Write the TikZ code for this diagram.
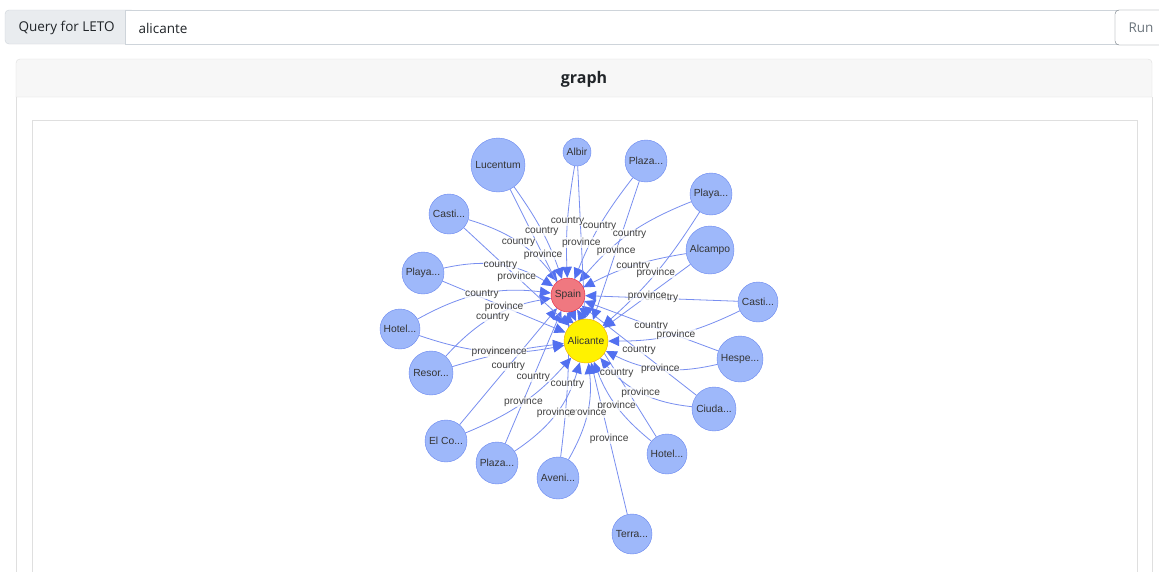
\documentclass[tikz,border=0pt]{standalone}
\usepackage{fontspec}
\setmainfont{Liberation Sans}
\newfontfamily\uifont{Open Sans}
\usetikzlibrary{arrows.meta,backgrounds}

\definecolor{placefill}{RGB}{158,184,250}
\definecolor{placeborder}{RGB}{105,135,240}
\definecolor{relcolor}{RGB}{120,142,240}
\definecolor{tipcolor}{RGB}{82,112,240}
\definecolor{spainfill}{RGB}{240,120,128}
\definecolor{spainborder}{RGB}{232,30,60}
\definecolor{alicanteborder}{RGB}{240,170,0}
\definecolor{nodetext}{RGB}{52,52,52}
\definecolor{lbltext}{RGB}{64,64,64}
\definecolor{addonfill}{RGB}{233,236,239}
\definecolor{inputborder}{RGB}{206,212,218}
\definecolor{btnborder}{RGB}{108,117,125}
\definecolor{cardborder}{RGB}{223,223,223}
\definecolor{headerfill}{RGB}{247,247,247}
\definecolor{titletext}{RGB}{33,37,41}

\pgfdeclarelayer{edgelayer}
\pgfsetlayers{background,edgelayer,main}

\tikzset{
  place/.style={circle,draw=placeborder,fill=placefill,inner sep=0pt,
    font=\fontsize{10.3}{12}\selectfont,text=nodetext},
  rel/.style={draw=relcolor,line width=0.8pt,
    -{Triangle[length=11pt,width=10pt,fill=tipcolor,color=tipcolor]}},
  lbl/.style={font=\fontsize{10.2}{12}\selectfont,text=lbltext,inner sep=0.4pt,
    fill=white,fill opacity=0.75,text opacity=1},
  uitext/.style={font=\uifont\fontsize{13.5}{16}\selectfont,text=titletext}
}

\begin{document}
\begin{tikzpicture}[x=1pt,y=1pt]
\useasboundingbox (0,-571) rectangle (1159,0);

% page chrome
\begin{pgfonlayer}{background}
\fill[white] (0,-571) rectangle (1159,0);
\draw[inputborder,fill=addonfill,rounded corners=4pt] (5,-10) rectangle (135,-44);
\draw[inputborder,fill=white] (125,-10) rectangle (1120,-44);
\draw[btnborder,fill=white,rounded corners=4pt] (1115,-10) rectangle (1175,-45);
\filldraw[fill=headerfill,draw=cardborder] (16,-97) [rounded corners=4pt] -- (16,-59) -- (1152,-59) [sharp corners] -- (1152,-97) -- cycle;
\draw[cardborder] (16,-97) -- (16,-580) (1152,-97) -- (1152,-580);
\draw[cardborder] (32,-120) rectangle (1137,-580);
\end{pgfonlayer}
\node[uitext,anchor=west] (querylabel) at (15,-28) {Query for LETO};
\node[uitext,anchor=west] (querytext) at (135,-28) {alicante};
\node[uitext,anchor=west,text=btnborder] (runbtn) at (1125,-28) {Run};
\node[font=\uifont\bfseries\fontsize{16}{19}\selectfont,text=titletext] (title) at (584,-79) {graph};

% graph nodes
\node[circle,draw=spainborder,fill=spainfill,inner sep=0pt,minimum size=34pt,
  font=\fontsize{10.3}{12}\selectfont,text=nodetext] (spain) at (568,-295) {Spain};
\node[circle,draw=alicanteborder,fill=yellow,inner sep=0pt,minimum size=44pt,
  font=\fontsize{10.3}{12}\selectfont,text=nodetext] (alicante) at (586,-341) {Alicante};

\node[place,minimum size=54pt] (lucentum) at (498,-165) {Lucentum};
\node[place,minimum size=28pt] (albir) at (577,-152) {Albir};
\node[place,minimum size=42pt] (plazaN) at (646,-161) {Plaza...};
\node[place,minimum size=42pt] (playaE) at (711,-194) {Playa...};
\node[place,minimum size=48pt] (alcampo) at (710,-250) {Alcampo};
\node[place,minimum size=40pt] (castiE) at (758,-302) {Casti...};
\node[place,minimum size=46pt] (hespe) at (740,-359) {Hespe...};
\node[place,minimum size=44pt] (ciuda) at (714,-409) {Ciuda...};
\node[place,minimum size=40pt] (hotelE) at (667,-454) {Hotel...};
\node[place,minimum size=40pt] (terra) at (632,-534) {Terra...};
\node[place,minimum size=42pt] (aveni) at (558,-478) {Aveni...};
\node[place,minimum size=42pt] (plazaS) at (497,-463) {Plaza...};
\node[place,minimum size=42pt] (elco) at (446,-441) {El Co...};
\node[place,minimum size=44pt] (resor) at (431,-373) {Resor...};
\node[place,minimum size=40pt] (hotelW) at (400,-329) {Hotel...};
\node[place,minimum size=42pt] (playaW) at (423,-273) {Playa...};
\node[place,minimum size=40pt] (castiW) at (449,-214) {Casti...};

% relations: source/bend
\def\countrylist{lucentum/8,albir/-6,plazaN/-8,playaE/-14,alcampo/-9,castiE/0,
  hespe/0,ciuda/0,hotelE/0,aveni/-4,plazaS/0,elco/0,resor/19,hotelW/18,
  playaW/22,castiW/18}
\def\provincelist{lucentum/0,albir/0,plazaN/0,playaE/8,alcampo/0,castiE/13,
  hespe/20,ciuda/22,hotelE/15,terra/0,aveni/-18,plazaS/-20,elco/-13,resor/5,
  hotelW/-15,playaW/0,castiW/0}
\begin{pgfonlayer}{edgelayer}
\foreach \src/\b in \countrylist
  \draw[rel] (\src) to[bend left=\b] (spain);
\foreach \src/\b in \provincelist
  \draw[rel] (\src) to[bend left=\b] (alicante);
\foreach \src/\b in \countrylist
  \path (\src) to[bend left=\b] node[lbl] {country} (spain);
\foreach \src/\b in \provincelist
  \path (\src) to[bend left=\b] node[lbl] {province} (alicante);
\end{pgfonlayer}
\end{tikzpicture}
\end{document}
